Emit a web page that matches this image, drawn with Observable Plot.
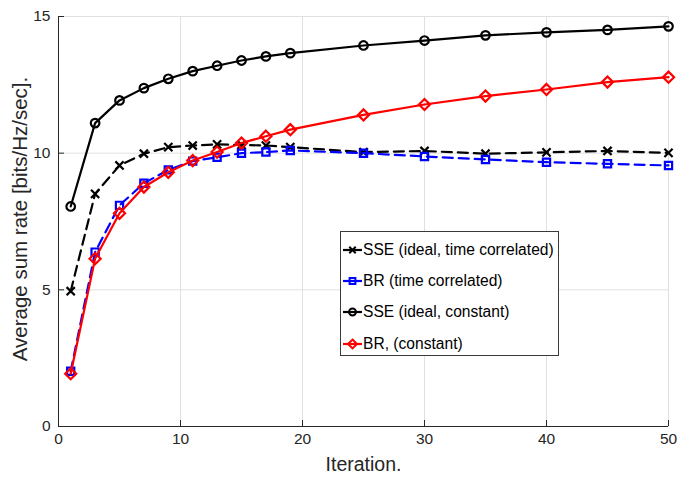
<!DOCTYPE html>
<html>
<head>
<meta charset="utf-8">
<script src="https://cdn.jsdelivr.net/npm/d3@7"></script>
<script src="https://cdn.jsdelivr.net/npm/@observablehq/plot@0.6"></script>
<style>
  html, body { margin: 0; padding: 0; background: #fff; }
  #wrap { position: relative; width: 678px; height: 481px; font-family: "Liberation Sans", Arial, Helvetica, sans-serif; }
  #legend { position: absolute; left: 340px; top: 231px; width: 219px; height: 125px; border: 1px solid #3a3a3a; background: #fff; box-sizing: border-box; }
  .row { position: absolute; left: 2px; height: 20px; display: flex; align-items: center; font-size: 15.6px; color: #000; white-space: nowrap; }
  .row svg { margin-right: 1px; }
</style>
</head>
<body>
<div id="wrap"><div id="legend"></div></div>
<script>
// ---- data ----
const iterations = [1, 3, 5, 7, 9, 11, 13, 15, 17, 19, 25, 30, 35, 40, 45, 50];
const sseTimeCorr = [4.95, 8.51, 9.55, 9.98, 10.22, 10.28, 10.32, 10.3, 10.28, 10.22, 10.04, 10.08, 9.98, 10.03, 10.08, 10.01];
const brTimeCorr  = [2.02, 6.38, 8.09, 8.90, 9.39, 9.71, 9.85, 10.0, 10.04, 10.1, 10.0, 9.88, 9.77, 9.67, 9.61, 9.55];
const sseConst    = [8.05, 11.1, 11.93, 12.38, 12.72, 13.0, 13.2, 13.39, 13.54, 13.66, 13.94, 14.12, 14.31, 14.42, 14.51, 14.64];
const brConst     = [1.93, 6.14, 7.8, 8.76, 9.3, 9.73, 10.04, 10.37, 10.62, 10.86, 11.4, 11.78, 12.09, 12.33, 12.6, 12.78];

const seriesNames = ["SSE (ideal, time correlated)", "BR (time correlated)", "SSE (ideal, constant)", "BR, (constant)"];
const seriesValues = [sseTimeCorr, brTimeCorr, sseConst, brConst];
const seriesColors = ["#000000", "#0000ff", "#000000", "#ff0000"];
const seriesDash = ["10,6", "10,6", null, null];
const seriesSymbols = ["times", "square2", "circle", "diamond2"];
const seriesR = [3.8, 4.6, 4.3, 5.0];

const xTicks = [0, 10, 20, 30, 40, 50];
const yTicks = [0, 5, 10, 15];
const xLabel = "Iteration.";
const yLabel = "Average sum rate [bits/Hz/sec].";

// ---- build ----
const font = '"Liberation Sans", Arial, Helvetica, sans-serif';
const axisColor = "#262626";
const gridColor = "#e0e0e0";

const marks = [
  Plot.gridX(xTicks, {stroke: gridColor, strokeOpacity: 1}),
  Plot.gridY(yTicks, {stroke: gridColor, strokeOpacity: 1}),
  Plot.frame({stroke: gridColor}),
  Plot.ruleX([0], {stroke: axisColor}),
  Plot.ruleY([0], {stroke: axisColor}),
  Plot.axisX(xTicks, {tickSize: 6, dy: -6, text: null, label: null, stroke: axisColor}),
  Plot.axisY(yTicks, {tickSize: 6, dx: 6, text: null, label: null, stroke: axisColor}),
  Plot.axisX(xTicks, {tickSize: 0, tickPadding: 6, label: null, fill: axisColor, fontSize: 15.5}),
  Plot.axisY(yTicks, {tickSize: 0, tickPadding: 8, label: null, fill: axisColor, fontSize: 15.5}),
  Plot.text([xLabel], {frameAnchor: "bottom", dy: 44, text: d => d, fill: axisColor, fontSize: 19.5, textAnchor: "middle"}),
  Plot.text([yLabel], {frameAnchor: "left", dx: -38, dy: -2.5, rotate: -90, text: d => d, fill: axisColor, fontSize: 20.5, textAnchor: "middle", lineAnchor: "middle"})
];

seriesNames.forEach((name, s) => {
  const rows = iterations.map((x, i) => ({series: name, x, y: seriesValues[s][i]}));
  marks.push(Plot.line(rows, {x: "x", y: "y", stroke: seriesColors[s], strokeWidth: 2.2, strokeDasharray: seriesDash[s]}));
  marks.push(Plot.dot(rows, {x: "x", y: "y", symbol: () => seriesSymbols[s], r: seriesR[s], stroke: seriesColors[s], strokeWidth: 2.2, fill: "none"}));
});

const chart = Plot.plot({
  width: 678,
  height: 481,
  marginLeft: 58,
  marginRight: 10,
  marginTop: 16,
  marginBottom: 55,
  style: {fontFamily: font, fontSize: "15.5px", background: "#fff", overflow: "visible"},
  x: {domain: [0, 50], axis: null},
  y: {domain: [0, 15], axis: null},
  symbol: {type: "identity"},
  marks
});
chart.style.position = "absolute";
chart.style.left = "0px";
chart.style.top = "0px";
document.getElementById("wrap").insertBefore(chart, document.getElementById("legend"));

// ---- legend ----
const legend = d3.select("#legend");
const symbolMap = {times: d3.symbolTimes, square2: d3.symbolSquare2, circle: d3.symbolCircle, diamond2: d3.symbolDiamond2};
const rowTops = [8, 39, 70, 102];
seriesNames.forEach((name, s) => {
  const row = legend.append("div").attr("class", "row").style("top", rowTops[s] + "px");
  const sv = row.append("svg").attr("width", 19).attr("height", 16);
  sv.append("line").attr("x1", 0).attr("x2", 19).attr("y1", 8).attr("y2", 8)
    .attr("stroke", seriesColors[s]).attr("stroke-width", 2.2);
  const r = seriesR[s] * 0.8;
  sv.append("path").attr("transform", "translate(9.5,8)")
    .attr("d", d3.symbol(symbolMap[seriesSymbols[s]], Math.PI * r * r)())
    .attr("stroke", seriesColors[s]).attr("stroke-width", 2).attr("fill", "none");
  row.append("span").text(name);
});
</script>
</body>
</html>
